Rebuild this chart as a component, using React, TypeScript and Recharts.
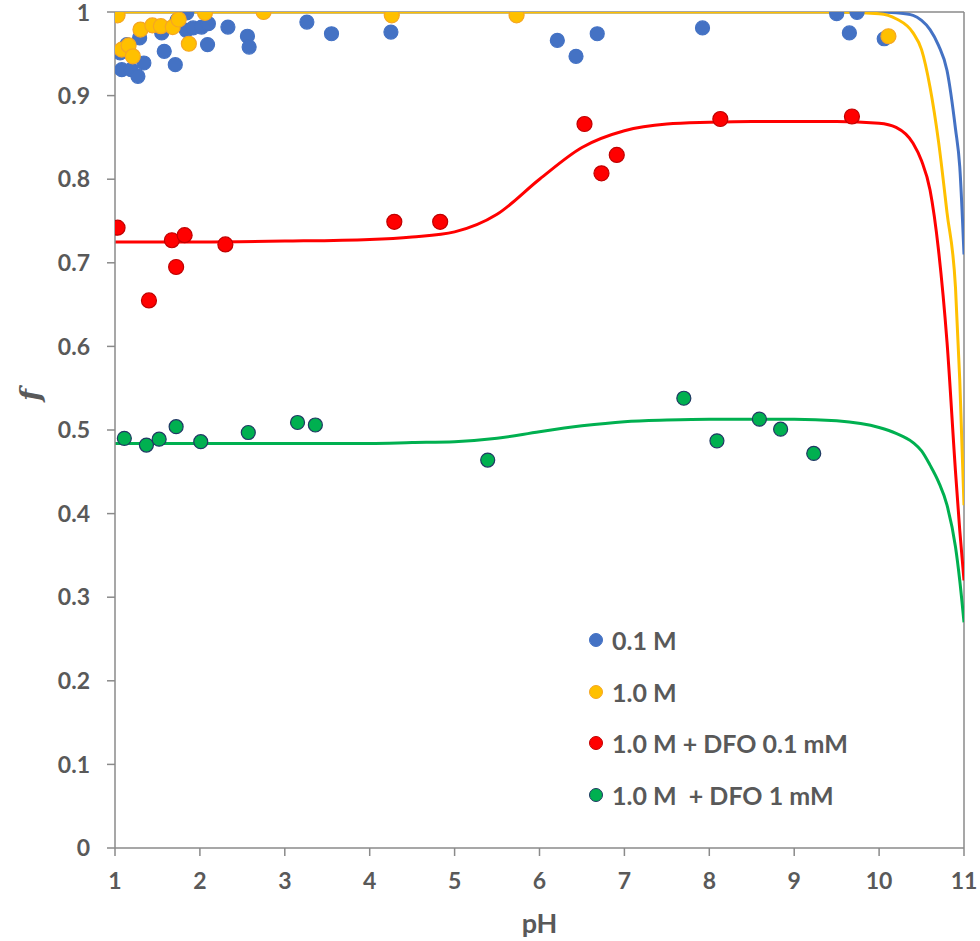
import React from 'react';
import {
  ComposedChart,
  Line,
  Scatter,
  XAxis,
  YAxis,
  Legend,
  ReferenceLine
} from 'recharts';

const FONT = 'Lato, "Open Sans", sans-serif';
const TEXT_COLOR = '#595959';
const AXIS_COLOR = '#8a8a8a';

const xTicks = [1, 2, 3, 4, 5, 6, 7, 8, 9, 10, 11];
const yTicks = [0, 0.1, 0.2, 0.3, 0.4, 0.5, 0.6, 0.7, 0.8, 0.9, 1];

// measured points: pH and f for each medium
const pH01M = [
  1.06, 1.08, 1.14, 1.19, 1.27, 1.29, 1.34, 1.55, 1.58, 1.71, 1.73, 1.84, 1.845, 1.92, 2.02,
  2.09, 2.1, 2.33, 2.56, 2.58, 3.26, 3.55, 4.25, 6.21, 6.43, 6.68, 7.92, 9.5, 9.65, 9.74, 10.06
];
const f01M = [
  0.951, 0.931, 0.961, 0.931, 0.923, 0.969, 0.939, 0.975, 0.953, 0.937, 0.99, 0.978, 0.999, 0.981, 0.982,
  0.961, 0.986, 0.982, 0.971, 0.958, 0.988, 0.974, 0.976, 0.966, 0.947, 0.974, 0.981, 0.998, 0.975, 0.9995, 0.968
];

const pH10M = [1.03, 1.08, 1.16, 1.21, 1.3, 1.44, 1.54, 1.68, 1.75, 1.87, 2.06, 2.75, 4.26, 5.73, 10.11];
const f10M = [0.996, 0.955, 0.96, 0.947, 0.979, 0.984, 0.983, 0.982, 0.991, 0.962, 0.999, 1.0, 0.996, 0.996, 0.971];

const pHDfo01 = [1.03, 1.4, 1.67, 1.72, 1.82, 2.3, 4.29, 4.83, 6.53, 6.73, 6.91, 8.13, 9.68];
const fDfo01 = [0.742, 0.655, 0.727, 0.695, 0.733, 0.722, 0.749, 0.749, 0.866, 0.807, 0.829, 0.872, 0.875];

const pHDfo1 = [1.11, 1.37, 1.52, 1.72, 2.01, 2.57, 3.15, 3.36, 5.39, 7.7, 8.09, 8.59, 8.84, 9.23];
const fDfo1 = [0.49, 0.482, 0.489, 0.504, 0.486, 0.497, 0.509, 0.506, 0.464, 0.538, 0.487, 0.513, 0.501, 0.472];

// fitted curves
const curvePH = [
  1, 2, 3, 4, 4.5, 5, 5.5, 6, 6.5, 7, 7.5, 8, 8.5, 9, 9.5, 10, 10.2, 10.4, 10.5, 10.6, 10.7, 10.8, 10.9, 10.95, 11
];
const curve01M = [
  1, 1, 1, 1, 1, 1, 1, 1, 1, 1, 1, 1, 1, 1, 1, 1, 0.999, 0.996, 0.99, 0.979, 0.96, 0.93, 0.86, 0.815, 0.71
];
const curve10M = [
  1, 1, 1, 1, 1, 1, 1, 1, 1, 1, 1, 1, 1, 1, 1, 0.998, 0.992, 0.975, 0.955, 0.91, 0.845, 0.76, 0.67, 0.56, 0.41
];
const curveDfo01 = [
  0.725, 0.725, 0.726, 0.728, 0.731, 0.737, 0.758, 0.8, 0.838, 0.858, 0.866, 0.868, 0.869, 0.869, 0.869, 0.867,
  0.862, 0.843, 0.822, 0.787, 0.715, 0.605, 0.45, 0.38, 0.32
];
const curveDfo1 = [
  0.484, 0.484, 0.484, 0.484, 0.485, 0.486, 0.49, 0.498, 0.505, 0.51, 0.512, 0.513, 0.513, 0.513, 0.511, 0.503,
  0.496, 0.485, 0.475, 0.458, 0.438, 0.41, 0.36, 0.32, 0.27
];

const toPoints = (xs: number[], ys: number[]) => xs.map((x, i) => ({ x, y: ys[i] }));

const series = [
  { name: '0.1 M', fill: '#4472C4', stroke: '#4472C4', line: '#4472C4', pts: toPoints(pH01M, f01M), curve: toPoints(curvePH, curve01M), r: 7 },
  { name: '1.0 M', fill: '#FFC000', stroke: '#F5A623', line: '#FFC000', pts: toPoints(pH10M, f10M), curve: toPoints(curvePH, curve10M), r: 7.5 },
  { name: '1.0 M + DFO 0.1 mM', fill: '#FF0000', stroke: '#C00000', line: '#FF0000', pts: toPoints(pHDfo01, fDfo01), curve: toPoints(curvePH, curveDfo01), r: 7.5 },
  { name: '1.0 M  + DFO 1 mM', fill: '#00B050', stroke: '#203864', line: '#00B050', pts: toPoints(pHDfo1, fDfo1), curve: toPoints(curvePH, curveDfo1), r: 7 }
];

const fmtY = (v: number) => (v === 0 ? '0' : v === 1 ? '1' : v.toFixed(1));

const tickStyle = { fill: TEXT_COLOR, fontSize: 23, fontWeight: 700, fontFamily: FONT };

const renderLegend = () => (
  <div style={{ fontFamily: FONT, fontWeight: 700, fontSize: 25, color: TEXT_COLOR, whiteSpace: 'pre' }}>
    {series.map((s) => (
      <div key={s.name} style={{ display: 'flex', alignItems: 'center', height: 51.7 }}>
        <svg width={16} height={16} style={{ marginRight: 8 }}>
          <circle cx={8} cy={8} r={6.5} fill={s.fill} stroke={s.stroke} strokeWidth={1} />
        </svg>
        <span>{s.name}</span>
      </div>
    ))}
  </div>
);

const dot = (fill: string, stroke: string, r: number) => (props: any) => (
  <circle cx={props.cx} cy={props.cy} r={r} fill={fill} stroke={stroke} strokeWidth={1.2} />
);

export default function App() {
  return (
    <div style={{ position: 'absolute', left: 0, top: 0, background: '#fff' }}>
      <ComposedChart width={980} height={941} margin={{ top: 12, right: 16, bottom: 0, left: 0 }}>
        <XAxis
          type="number"
          dataKey="x"
          domain={[1, 11]}
          ticks={xTicks}
          allowDataOverflow
          height={93}
          tickSize={8}
          tickMargin={17}
          tick={tickStyle}
          stroke={AXIS_COLOR}
          strokeWidth={1.5}
          label={{
            content: ({ viewBox }: any) => (
              <text
                x={viewBox.x + viewBox.width / 2}
                y={viewBox.y + 85}
                textAnchor="middle"
                fill={TEXT_COLOR}
                fontFamily={FONT}
                fontWeight={700}
                fontSize={27}
              >
                pH
              </text>
            )
          }}
        />
        <YAxis
          type="number"
          dataKey="y"
          domain={[0, 1]}
          ticks={yTicks}
          allowDataOverflow
          width={115}
          tickSize={8}
          tickMargin={17}
          tickFormatter={fmtY}
          tick={tickStyle}
          stroke={AXIS_COLOR}
          strokeWidth={1.5}
          label={{
            content: ({ viewBox }: any) => {
              const cx = viewBox.x + 30;
              const cy = viewBox.y + viewBox.height / 2 - 35;
              return (
                <text
                  x={cx}
                  y={cy}
                  transform={`rotate(-90 ${cx} ${cy})`}
                  textAnchor="middle"
                  dominantBaseline="central"
                  fill={TEXT_COLOR}
                  fontFamily='"DejaVu Serif", serif'
                  fontStyle="italic"
                  fontWeight={700}
                  fontSize={28}
                >
                  f
                </text>
              );
            }
          }}
        />
        <ReferenceLine y={1} stroke={AXIS_COLOR} strokeWidth={1.5} />
        <ReferenceLine x={11} stroke={AXIS_COLOR} strokeWidth={1.5} />
        {series.map((s) => (
          <Line
            key={`line-${s.name}`}
            data={s.curve}
            dataKey="y"
            type="monotone"
            stroke={s.line}
            strokeWidth={3}
            dot={false}
            activeDot={false}
            isAnimationActive={false}
          />
        ))}
        {series.map((s) => (
          <Scatter
            key={`pts-${s.name}`}
            data={s.pts}
            dataKey="y"
            shape={dot(s.fill, s.stroke, s.r)}
            isAnimationActive={false}
          />
        ))}
        <Legend
          layout="vertical"
          align="center"
          verticalAlign="middle"
          content={renderLegend}
          wrapperStyle={{ left: 588, top: 614, width: 'auto' }}
        />
      </ComposedChart>
    </div>
  );
}
